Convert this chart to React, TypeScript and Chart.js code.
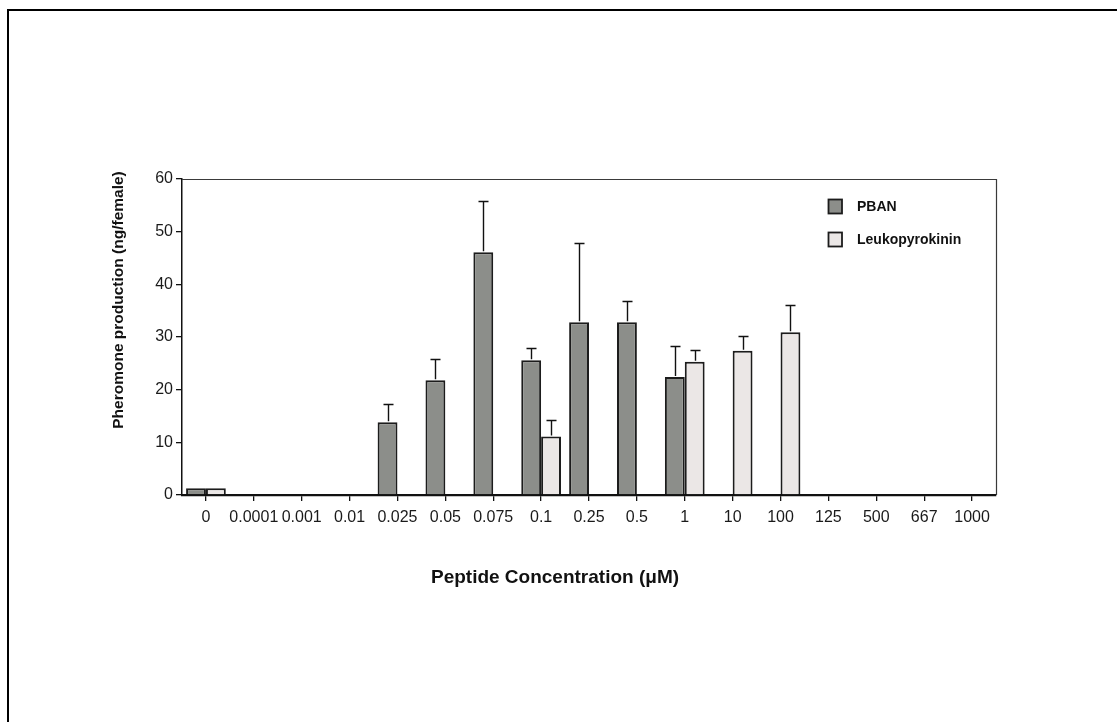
import React, { useEffect, useRef } from 'react';
import { Chart, registerables } from 'chart.js';

Chart.register(...registerables);

// ---- data ----
const categories = ['0', '0.0001', '0.001', '0.01', '0.025', '0.05', '0.075', '0.1', '0.25', '0.5', '1', '10', '100', '125', '500', '667', '1000'];
const pbanValues = [1.3, null, null, null, 13.8, 21.8, 46.1, 25.6, 32.8, 32.8, 22.4, null, null, null, null, null, null];
const pbanErrors = [null, null, null, null, 3.5, 4.1, 9.7, 2.4, 15.1, 4.1, 5.9, null, null, null, null, null, null];
const leukoValues = [1.3, null, null, null, null, null, null, 11.1, null, null, 25.3, 27.4, 30.9, null, null, null, null];
const leukoErrors = [null, null, null, null, null, null, null, 3.1, null, null, 2.2, 2.8, 5.2, null, null, null, null];
const seriesNames = ['PBAN', 'Leukopyrokinin'];
const yMin = 0;
const yMax = 60;
const yStep = 10;
const xAxisTitle = 'Peptide Concentration (\u03BCM)';
const yAxisTitle = 'Pheromone production (ng/female)';

const FONT = '"Liberation Sans", Arial, Helvetica, sans-serif';
const PBAN_FILL = '#8c8e8a';
const LEUKO_FILL = '#ebe7e6';
const EDGE = '#1c1c1c';

const errorBarPlugin = {
  id: 'errorBars',
  afterDatasetsDraw(chart: any) {
    const ctx = chart.ctx;
    const yScale = chart.scales.y;
    chart.data.datasets.forEach((ds: any, di: number) => {
      const meta = chart.getDatasetMeta(di);
      const errs = ds.errors || [];
      meta.data.forEach((bar: any, i: number) => {
        const v = ds.data[i];
        const e = errs[i];
        if (v == null || e == null) return;
        const x = Math.round(bar.x) + 0.5;
        const yTop = yScale.getPixelForValue(v) - 1;
        const yErr = Math.round(yScale.getPixelForValue(v + e)) + 0.5;
        ctx.save();
        ctx.strokeStyle = '#111';
        ctx.lineWidth = 1.4;
        ctx.beginPath();
        ctx.moveTo(x, yTop);
        ctx.lineTo(x, yErr);
        ctx.moveTo(x - 5, yErr);
        ctx.lineTo(x + 5, yErr);
        ctx.stroke();
        ctx.restore();
      });
    });
  },
};

const framePlugin = {
  id: 'frameAndText',
  afterDraw(chart: any) {
    const ctx = chart.ctx;
    const a = chart.chartArea;
    ctx.save();
    // top and right frame of plot area
    ctx.strokeStyle = '#3a3a3a';
    ctx.lineWidth = 1.2;
    ctx.beginPath();
    ctx.moveTo(a.left, Math.round(a.top) + 0.5);
    ctx.lineTo(Math.round(a.right) + 0.5, Math.round(a.top) + 0.5);
    ctx.lineTo(Math.round(a.right) + 0.5, a.bottom);
    ctx.stroke();

    // legend
    const boxX = a.right - 168;
    let boxY = a.top + 20;
    chart.data.datasets.forEach((ds: any) => {
      ctx.fillStyle = ds.backgroundColor;
      ctx.fillRect(boxX, boxY, 14, 15);
      ctx.strokeStyle = EDGE;
      ctx.lineWidth = 1.8;
      ctx.strokeRect(boxX + 0.5, boxY + 0.5, 13.5, 14);
      ctx.fillStyle = '#111';
      ctx.font = 'bold 14px ' + FONT;
      ctx.textAlign = 'left';
      ctx.textBaseline = 'middle';
      ctx.fillText(ds.label, boxX + 29, boxY + 8);
      boxY += 33;
    });

    // axis titles
    ctx.fillStyle = '#111';
    ctx.font = 'bold 19px ' + FONT;
    ctx.textAlign = 'center';
    ctx.textBaseline = 'middle';
    ctx.fillText(xAxisTitle, a.left + 373, a.bottom + 83);

    ctx.save();
    ctx.translate(a.left - 63, a.top + 121);
    ctx.rotate(-Math.PI / 2);
    ctx.font = 'bold 15.5px ' + FONT;
    ctx.fillText(yAxisTitle, 0, 0);
    ctx.restore();
    ctx.restore();
  },
};

export default function App() {
  const ref = useRef<HTMLCanvasElement | null>(null);

  useEffect(() => {
    if (!ref.current) return;
    const chart = new Chart(ref.current, {
      type: 'bar',
      data: {
        labels: categories,
        datasets: [
          {
            label: seriesNames[0],
            data: pbanValues,
            errors: pbanErrors,
            backgroundColor: PBAN_FILL,
            borderColor: EDGE,
            borderWidth: 2,
            borderSkipped: 'start',
            barPercentage: 1,
            categoryPercentage: 0.83,
          } as any,
          {
            label: seriesNames[1],
            data: leukoValues,
            errors: leukoErrors,
            backgroundColor: LEUKO_FILL,
            borderColor: EDGE,
            borderWidth: 2,
            borderSkipped: 'start',
            barPercentage: 1,
            categoryPercentage: 0.83,
          } as any,
        ],
      },
      options: {
        animation: false,
        responsive: false,
        events: [],
        layout: { padding: { top: 179, right: 121, bottom: 187, left: 0 } },
        plugins: {
          legend: { display: false },
          tooltip: { enabled: false },
        },
        scales: {
          x: {
            type: 'category',
            grid: {
              offset: false,
              drawOnChartArea: false,
              drawTicks: true,
              tickLength: 6,
              color: '#111',
              lineWidth: 1.3,
            },
            border: { display: true, color: '#111', width: 2.2 },
            ticks: {
              color: '#1a1a1a',
              font: { family: FONT, size: 16 },
              padding: 7,
              maxRotation: 0,
              minRotation: 0,
              autoSkip: false,
            },
            afterFit(scale: any) {
              scale.height = 40;
            },
          },
          y: {
            min: yMin,
            max: yMax,
            grid: {
              drawOnChartArea: false,
              drawTicks: true,
              tickLength: 6,
              color: '#111',
              lineWidth: 1.3,
            },
            border: { display: true, color: '#111', width: 1.5 },
            ticks: {
              stepSize: yStep,
              color: '#1a1a1a',
              font: { family: FONT, size: 16 },
              padding: 3,
            },
            afterFit(scale: any) {
              scale.width = 182;
            },
          },
        },
      } as any,
      plugins: [errorBarPlugin, framePlugin],
    });
    return () => chart.destroy();
  }, []);

  return (
    <div style={{ position: 'fixed', left: 0, top: 0, width: 1117, height: 722, overflow: 'hidden', background: '#fff' }}>
      <div
        style={{
          position: 'absolute',
          left: 7,
          top: 9,
          width: 2000,
          height: 2000,
          borderLeft: '2px solid #000',
          borderTop: '2px solid #000',
        }}
      />
      <canvas ref={ref} width={1117} height={722} style={{ position: 'absolute', left: 0, top: 0, display: 'block' }} />
    </div>
  );
}
